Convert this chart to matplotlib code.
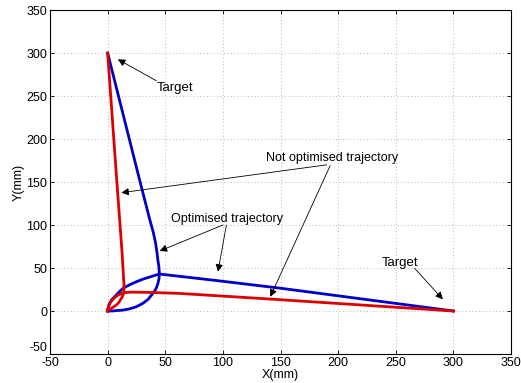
import matplotlib
matplotlib.use("Agg")
import matplotlib.pyplot as plt

plt.rcParams["font.family"] = ["Liberation Sans", "DejaVu Sans"]
plt.rcParams["axes.unicode_minus"] = False

# blue trajectory towards target (0, 300)
blue_up_x = [0, 4, 7.5, 13, 19, 25, 30.6, 35, 39.3, 42, 43.6, 44.6, 44.8,
             44.5, 43.6, 42.8, 41.6, 39.5, 36.6, 32.2, 27.8, 0]
blue_up_y = [0, 0, 0.5, 1, 2.5, 5, 9, 13.5, 20.6, 26, 32, 38, 44,
             51, 59, 68, 79, 92, 106, 129, 152, 300]

# blue trajectory towards target (300, 0)
blue_right_x = [0, 0.6, 1.7, 3.5, 6.1, 9.5, 13.3, 19, 24.9, 30.5, 36.4, 41,
                45, 94, 150, 300]
blue_right_y = [0, 4.5, 9, 13, 16.7, 21.5, 26.4, 30.5, 34, 37, 39.5, 41.5,
                43, 35.5, 26.5, 0]

# red trajectory towards target (0, 300)
red_up_x = [0, 1.5, 3.2, 5.3, 7.5, 9.5, 11, 12.4, 13.3, 13.9, 14.1, 14.2,
            12.4, 10.2, 7.9, 0]
red_up_y = [0, 1.5, 3.1, 5, 7, 9.7, 12.8, 15.7, 18.6, 21.5, 24.4, 30,
            70, 110, 152, 300]

# red trajectory towards target (300, 0)
red_right_x = [0, 0.4, 1.1, 2.6, 4.6, 6.7, 9, 11.8, 14.7, 18, 22, 40, 62,
               140, 300]
red_right_y = [0, 3.5, 7, 10.5, 13.6, 16.3, 18.6, 20.2, 21.3, 21.8, 22,
               21.5, 20.5, 14.0, 0]

x_ticks = [-50, 0, 50, 100, 150, 200, 250, 300, 350]
y_ticks = [-50, 0, 50, 100, 150, 200, 250, 300, 350]

BLUE = "#0000c8"
RED = "#dc0000"


def add_arrow(ax, text_xy, tip_xy):

    ax.annotate(
        "",
        xy=tip_xy,
        xytext=text_xy,
        arrowprops=dict(
            arrowstyle="-|>",
            color="black",
            lw=0.6,
            mutation_scale=11,
            shrinkA=0,
            shrinkB=0,
        ),
    )


def main():

    fig = plt.figure(figsize=(5.21, 3.83), dpi=100)

    ax = fig.add_axes([0.096, 0.0757, 0.885, 0.898])

    ax.plot(blue_up_x, blue_up_y, color=BLUE, lw=2)
    ax.plot(blue_right_x, blue_right_y, color=BLUE, lw=2)
    ax.plot(red_up_x, red_up_y, color=RED, lw=2)
    ax.plot(red_right_x, red_right_y, color=RED, lw=2)

    ax.set_xlim(-50, 350)
    ax.set_ylim(-50, 350)
    ax.set_xticks(x_ticks)
    ax.set_yticks(y_ticks)

    ax.grid(True, linestyle=(0, (1, 2.5)), color="#b8b8b8", lw=0.7)

    ax.tick_params(
        direction="in",
        top=True,
        right=True,
        labelsize=9,
        length=3,
        width=0.6,
        pad=2,
    )
    ax.tick_params(axis="x", pad=2)

    # lowest y label sits just above its tick, as in the original figure
    ax.get_yticklabels()[0].set_va("bottom")

    for spine in ax.spines.values():
        spine.set_linewidth(0.8)

    ax.set_xlabel("X(mm)", fontsize=9, labelpad=0)
    ax.set_ylabel("Y(mm)", fontsize=9, labelpad=1)

    # annotations
    ax.text(58.4, 259.9, "Target", fontsize=9.5, ha="center", va="center")
    add_arrow(ax, (42.2, 267.8), (8.9, 292.7))

    ax.text(253.3, 56.4, "Target", fontsize=9.5, ha="center", va="center")
    add_arrow(ax, (266.3, 49.6), (290.8, 13.6))

    ax.text(194.4, 177.6, "Not optimised trajectory", fontsize=9,
            ha="center", va="center")
    add_arrow(ax, (190, 170), (11.9, 137.6))
    add_arrow(ax, (193, 169), (141.1, 16.6))

    ax.text(103.6, 106.7, "Optimised trajectory", fontsize=9,
            ha="center", va="center")
    add_arrow(ax, (100, 100), (45.1, 69.8))
    add_arrow(ax, (103, 100), (95.7, 45.7))

    fig.savefig("out.png", dpi=100)

    plt.close(fig)


if __name__ == "__main__":
    main()
